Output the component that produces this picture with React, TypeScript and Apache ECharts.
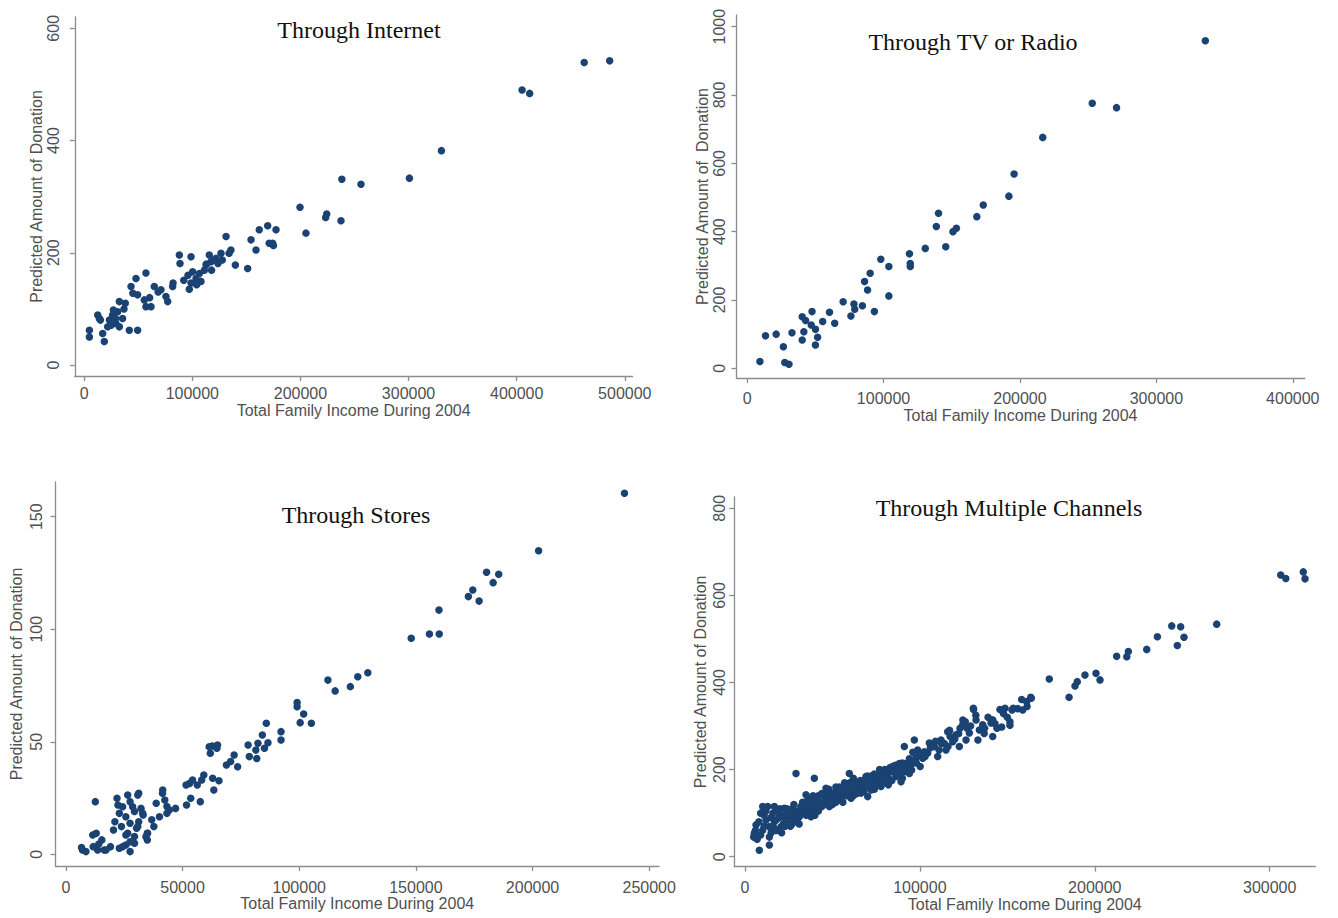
import React, { useEffect, useRef } from "react";
import * as echarts from "echarts";

// ---------- DATA ----------
const internetData: number[][] = [
  [4800, 62], [4800, 50], [12500, 89], [14000, 83], [17100, 56], [18600, 42], [21700, 68], [23300, 80],
  [26300, 89], [29400, 74], [31000, 95], [32500, 113], [32500, 68], [35500, 83], [41700, 62], [49400, 62],
  [43300, 140], [47900, 154], [49400, 125], [55600, 116], [57100, 104], [61800, 104], [57100, 164], [64800, 140],
  [71000, 134], [75600, 122], [77200, 113], [81800, 140], [88000, 196], [88600, 181], [97200, 135], [98800, 146],
  [98800, 193], [100300, 166], [103400, 154], [106500, 163], [111100, 169], [112700, 178], [115700, 196], [117300, 184],
  [121900, 190], [126500, 199], [131200, 229], [135700, 205], [139800, 178], [151200, 172], [154300, 223], [158900, 205],
  [161900, 241], [169700, 248], [174300, 217], [177400, 241], [199600, 281], [205100, 235], [224300, 269], [223300, 263],
  [237500, 257], [238300, 331], [256000, 322], [300800, 333], [330400, 382], [405000, 490], [412000, 484], [462450, 539],
  [486000, 542], [36800, 100], [45000, 128], [60500, 120], [68400, 130], [82200, 146], [92100, 151], [96000, 160],
  [104000, 143], [108000, 149], [117800, 169], [123700, 181], [127700, 187], [119800, 187], [113000, 180], [134000, 199],
  [171100, 217], [175000, 213], [24900, 71], [28900, 83], [15000, 80], [27000, 98], [38000, 110],
];

const tvRadioData: number[][] = [
  [335900, 959], [253000, 776], [270800, 763], [216700, 676], [195700, 569], [191900, 504], [173100, 478], [168400, 444],
  [140300, 454], [138700, 415], [153400, 410], [150900, 400], [145600, 356], [130600, 351], [119000, 335], [119600, 307],
  [119600, 298], [98000, 319], [103900, 298], [90200, 278], [86100, 254], [88300, 229], [103900, 212], [93300, 166],
  [70400, 195], [78300, 188], [78900, 173], [84500, 183], [76100, 153], [60400, 164], [55400, 137], [64200, 132],
  [47600, 166], [42900, 140], [40400, 151], [47000, 127], [41600, 107], [50100, 114], [51700, 91], [50100, 68],
  [40400, 83], [32900, 104], [21300, 100], [13500, 95], [26600, 63], [27600, 17], [30700, 12], [9400, 20],
];

const storesData: number[][] = [
  [239400, 160.4], [202600, 134.9], [180300, 125.3], [185500, 124.4], [183100, 120.7], [174400, 117.4], [172500, 114.5],
  [177100, 112.5], [159900, 108.5], [160000, 97.9], [155800, 97.9], [148000, 96.0], [129400, 80.7], [125100, 78.9],
  [121900, 74.5], [112300, 77.4], [115400, 72.6], [99100, 67.4], [99100, 65.6], [101900, 62.3], [100400, 58.5],
  [105200, 58.2], [85900, 58.2], [92200, 54.5], [92200, 50.8], [84200, 53.0], [86600, 49.6], [82300, 49.3],
  [78100, 48.6], [81400, 46.3], [85100, 47.1], [78600, 43.4], [81800, 42.6], [72100, 44.1], [70600, 41.2],
  [73600, 38.9], [68800, 39.7], [62800, 48.1], [64700, 47.1], [61900, 44.9], [59100, 35.2], [65600, 32.7],
  [63400, 28.6], [57600, 23.4], [53000, 31.5], [56300, 30.8], [58200, 33.0], [53500, 24.9], [51700, 21.9],
  [47000, 20.4], [41400, 27.1], [42400, 24.1], [38700, 22.7], [43300, 21.2], [43300, 18.2], [40100, 16.7],
  [36800, 15.3], [37700, 12.3], [34900, 9.3], [34900, 6.4], [31200, 27.1], [27500, 23.4], [21900, 24.9],
  [22300, 21.9], [22900, 18.2], [25700, 16.7], [29400, 19.0], [32200, 20.4], [33100, 17.5], [31200, 14.5],
  [27500, 13.8], [23800, 12.3], [21000, 14.5], [20400, 10.8], [25700, 8.6], [29400, 7.9], [29400, 4.9],
  [25700, 4.1], [22900, 2.7], [27500, 1.2], [19100, 3.4], [16400, 1.9], [13600, 1.9], [11700, 3.4],
  [13000, 9.3], [15400, 6.4], [14100, 4.6], [12600, 23.4], [7100, 1.9], [6700, 3.0], [27500, 5.6],
  [30300, 11.6], [8600, 1.2], [11500, 8.6], [17200, 1.9], [26500, 26.3], [30800, 26.3], [24300, 21.1],
  [28600, 21.1], [32900, 18.2], [30800, 12.3], [35000, 9.3], [26500, 9.3], [24300, 3.4], [34300, 7.8],
  [41500, 28.6], [44300, 19.7], [51500, 30.8], [54300, 33.0], [61400, 47.8], [65000, 48.6], [62900, 33.8],
];

const multipleData: number[][] = [
  [8250, 15], [13970, 27], [5390, 54], [6350, 73], [10160, 115], [13020, 115], [16830, 115], [12060, 84],
  [10160, 61], [13970, 69], [16830, 80], [19690, 92], [20640, 69], [23500, 84], [25400, 100], [22540, 111],
  [27310, 111], [28260, 84], [31120, 92], [29210, 191], [39690, 180], [33030, 107], [35880, 123], [38740, 138],
  [34930, 142], [37790, 92], [40650, 107], [42550, 123], [45410, 138], [46360, 157], [48270, 115], [50180, 134],
  [52080, 149], [53990, 130], [55890, 146], [57800, 161], [59700, 191], [60660, 134], [62560, 149], [63520, 169],
  [66370, 146], [67330, 161], [69230, 184], [70190, 138], [72090, 153], [74000, 169], [75900, 180], [77810, 161],
  [78760, 191], [80670, 176], [82570, 195], [84480, 207], [86380, 184], [88290, 214], [89240, 172], [91150, 253],
  [94000, 191], [94960, 211], [96860, 268], [98770, 245], [101630, 226], [104490, 238], [105440, 261], [108300, 253],
  [110200, 230], [112110, 268], [114970, 245], [115920, 287], [118780, 264], [120690, 280], [122590, 253], [124500, 303],
  [126400, 268], [128310, 284], [130590, 341], [132120, 314], [134020, 291], [135930, 303], [140690, 307], [141650, 276],
  [306300, 647], [309200, 639], [319200, 654], [320200, 638], [269700, 534], [244000, 530], [249100, 528], [251000, 504],
  [247200, 485], [235800, 505], [229700, 476], [219200, 471], [218300, 459], [212500, 460], [203000, 406], [200700, 421],
  [194400, 417], [190000, 402], [188700, 392], [185300, 366], [174000, 408], [163400, 366], [161100, 356], [158200, 361],
  [153400, 341], [148700, 341], [145800, 338], [151500, 310], [146800, 298], [141100, 314],
  [130700, 338], [124600, 314], [141700, 314], [147800, 329], [152700, 337], [158800, 337], [163700, 364], [161300, 345],
  [151500, 302], [144100, 295], [136800, 283], [133200, 268], [127000, 295], [122200, 283], [117300, 276], [112400, 260],
  [116100, 253], [107500, 253], [102600, 241], [97700, 226], [91600, 214], [95300, 199], [88000, 191], [83100, 176],
  [78200, 168], [100200, 207],
  [7000, 40], [9000, 50], [11000, 95], [15000, 55], [18000, 60], [20000, 110], [22000, 75], [24000, 95],
  [26000, 70], [28000, 100], [30000, 80], [32000, 115], [34000, 100], [36000, 110], [38000, 125], [40000, 95],
  [42000, 140], [44000, 115], [46000, 125], [48000, 145], [50000, 120], [52000, 160], [54000, 140], [56000, 125],
  [58000, 150], [60000, 170], [62000, 140], [64000, 160], [66000, 175], [68000, 150], [70000, 170], [72000, 185],
  [74000, 155], [76000, 175], [78000, 195], [80000, 185], [82000, 165], [84000, 195], [86000, 200], [88000, 205],
  [90000, 180], [92000, 200], [94000, 225], [96000, 240], [98000, 215], [100000, 235], [103000, 230], [106000, 250],
  [109000, 265], [111000, 245], [114000, 260], [117000, 290], [120000, 270], [123000, 295], [126000, 310], [129000, 300],
  [132000, 325], [137000, 295], [139000, 320], [143000, 305], [150000, 320], [156000, 340],
  [5000, 45], [6000, 60], [8000, 80], [9000, 100], [11000, 70], [12000, 105], [14000, 45], [15000, 90],
  [16000, 100], [17000, 65], [18000, 85], [19000, 105], [20000, 90], [21000, 55], [22000, 95], [23000, 70],
  [24000, 110], [25000, 85], [26000, 95], [27000, 75], [28000, 120], [29000, 95], [30000, 105], [31000, 75],
  [32000, 100], [33000, 125], [34000, 115], [35000, 95], [36000, 130], [37000, 105], [38000, 115], [39000, 140],
  [40000, 120], [41000, 130], [42000, 105], [43000, 125], [44000, 145], [45000, 120], [46000, 140], [47000, 130],
  [48000, 155], [49000, 125], [50000, 145], [51000, 135], [52000, 125], [53000, 150], [54000, 160], [55000, 135],
  [56000, 150], [57000, 170], [58000, 140], [59000, 160], [60000, 150], [61000, 165], [62000, 180], [63000, 155],
  [64000, 145], [65000, 170], [66000, 160], [67000, 150], [68000, 175], [69000, 165], [70000, 185], [71000, 160],
  [72000, 170], [73000, 180], [74000, 190], [75000, 165], [76000, 185], [77000, 200], [78000, 180], [79000, 170],
  [80000, 200], [81000, 190], [82000, 180], [83000, 205], [84000, 175], [85000, 195], [86000, 210], [87000, 190],
  [89000, 200], [90000, 215], [91000, 195], [93000, 205], [95000, 220],
];

const panelTitles = ["Through Internet", "Through TV or Radio", "Through Stores", "Through Multiple Channels"];
const yAxisNames = [
  "Predicted Amount of Donation",
  "Predicted Amount of  Donation",
  "Predicted Amount of Donation",
  "Predicted Amount of Donation",
];
const xAxisName = "Total Family Income During 2004";

const xTicksInternet = [0, 100000, 200000, 300000, 400000, 500000];
const yTicksInternet = [0, 200, 400, 600];
const xTicksTv = [0, 100000, 200000, 300000, 400000];
const yTicksTv = [0, 200, 400, 600, 800, 1000];
const xTicksStores = [0, 50000, 100000, 150000, 200000, 250000];
const yTicksStores = [0, 50, 100, 150];
const xTicksMultiple = [0, 100000, 200000, 300000];
const yTicksMultiple = [0, 200, 400, 600, 800];

// ---------- LAYOUT (pixels) ----------
type Geo = {
  left: number; right: number; top: number; bottom: number;
  x0px: number; xLastPx: number; y0px: number; yLastPx: number;
  yLabelDist: number; yNameDist: number; xLabelDist: number; xNameDist: number;
  titleX: number; titleY: number;
};

const geos: Geo[] = [
  { left: 74.8, right: 632.5, top: 17, bottom: 376, x0px: 84.2, xLastPx: 624.8, y0px: 365, yLastPx: 28.3,
    yLabelDist: 21, yNameDist: 36, xLabelDist: 17, xNameDist: 34, titleX: 359, titleY: 30 },
  { left: 736.4, right: 1304.7, top: 15, bottom: 378, x0px: 747.1, xLastPx: 1292.8, y0px: 368.3, yLastPx: 26.7,
    yLabelDist: 17, yNameDist: 32, xLabelDist: 20, xNameDist: 37, titleX: 973, titleY: 42 },
  { left: 55.5, right: 659, top: 482, bottom: 866, x0px: 65.9, xLastPx: 649.2, y0px: 854.3, yLastPx: 516.7,
    yLabelDist: 19, yNameDist: 39, xLabelDist: 21, xNameDist: 37, titleX: 356, titleY: 515 },
  { left: 734.2, right: 1315.4, top: 497, bottom: 866.7, x0px: 744.9, xLastPx: 1269.7, y0px: 856.7, yLastPx: 508.3,
    yLabelDist: 15, yNameDist: 34, xLabelDist: 21, xNameDist: 35, titleX: 1009, titleY: 508 },
];

const panels = [
  { data: internetData, xTicks: xTicksInternet, yTicks: yTicksInternet },
  { data: tvRadioData, xTicks: xTicksTv, yTicks: yTicksTv },
  { data: storesData, xTicks: xTicksStores, yTicks: yTicksStores },
  { data: multipleData, xTicks: xTicksMultiple, yTicks: yTicksMultiple },
];

const DOT = "#1a4272";
const AXIS = "#8c8c8c";
const LABEL = "#505050";
const SANS = "Liberation Sans, Arial, sans-serif";
const FS = 16;

function buildOption() {
  const grid: any[] = [];
  const xAxis: any[] = [];
  const yAxis: any[] = [];
  const series: any[] = [];
  const graphic: any[] = [];

  panels.forEach((p, i) => {
    const g = geos[i];
    const xLast = p.xTicks[p.xTicks.length - 1];
    const yLast = p.yTicks[p.yTicks.length - 1];
    const xppu = (g.xLastPx - g.x0px) / xLast;
    const yppu = (g.y0px - g.yLastPx) / yLast;
    const xmin = (g.left - g.x0px) / xppu;
    const xmax = (g.right - g.x0px) / xppu;
    const ymin = -(g.bottom - g.y0px) / yppu;
    const ymax = (g.y0px - g.top) / yppu;

    grid.push({ left: g.left, top: g.top, width: g.right - g.left, height: g.bottom - g.top });

    xAxis.push({
      type: "value", gridIndex: i, min: xmin, max: xmax,
      axisLine: { show: true, onZero: false, lineStyle: { color: AXIS, width: 1.3 } },
      axisTick: { show: true, length: 5, customValues: p.xTicks, lineStyle: { color: AXIS, width: 1.3 } },
      axisLabel: {
        customValues: p.xTicks, margin: g.xLabelDist - 8, color: LABEL, fontSize: FS, fontFamily: SANS,
        formatter: (v: number) => String(Math.round(v)),
      },
      splitLine: { show: false },
      name: xAxisName, nameLocation: "middle", nameGap: g.xNameDist - 8,
      nameTextStyle: { color: LABEL, fontSize: FS, fontFamily: SANS },
    });

    yAxis.push({
      type: "value", gridIndex: i, min: ymin, max: ymax,
      axisLine: { show: true, onZero: false, lineStyle: { color: AXIS, width: 1.3 } },
      axisTick: { show: true, length: 5, customValues: p.yTicks, lineStyle: { color: AXIS, width: 1.3 } },
      axisLabel: {
        customValues: p.yTicks, rotate: 90, margin: g.yLabelDist - 8, color: LABEL, fontSize: FS, fontFamily: SANS,
        formatter: (v: number) => String(Math.round(v)),
      },
      splitLine: { show: false },
      name: yAxisNames[i], nameLocation: "middle", nameRotate: 90, nameGap: g.yNameDist - 8,
      nameTextStyle: { color: LABEL, fontSize: FS, fontFamily: SANS },
    });

    series.push({
      type: "scatter", xAxisIndex: i, yAxisIndex: i, data: p.data,
      symbol: "circle", symbolSize: 7.5,
      itemStyle: { color: DOT, opacity: 1 },
      emphasis: { disabled: true },
    });

    graphic.push({
      type: "text", x: g.titleX, y: g.titleY, z: 10,
      style: {
        text: panelTitles[i], fill: "#111111",
        font: '24px "Liberation Serif", "Times New Roman", serif',
        textAlign: "center", textVerticalAlign: "middle", align: "center", verticalAlign: "middle",
      },
    });
  });

  return {
    animation: false,
    backgroundColor: "#ffffff",
    grid, xAxis, yAxis, series, graphic,
  };
}

export default function App() {
  const ref = useRef<HTMLDivElement>(null);
  useEffect(() => {
    if (!ref.current) return;
    const chart = echarts.init(ref.current, null, { renderer: "svg" });
    chart.setOption(buildOption() as any);
    return () => chart.dispose();
  }, []);
  return (
    <div
      ref={ref}
      style={{ position: "absolute", left: 0, top: 0, width: 1338, height: 918, background: "#fff" }}
    />
  );
}
